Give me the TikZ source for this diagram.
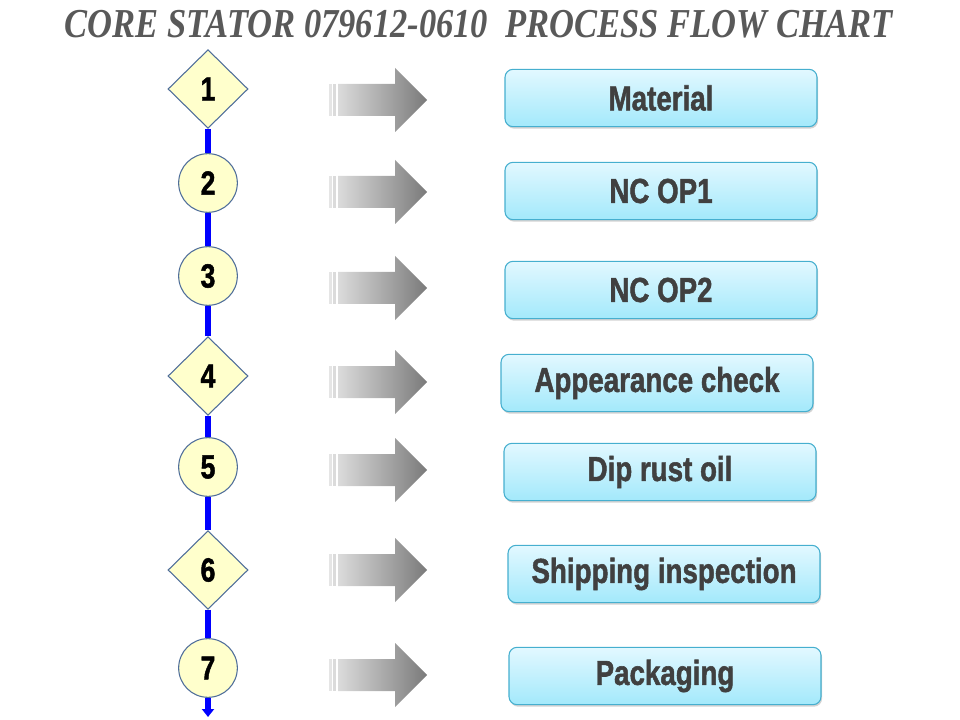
\documentclass[tikz,border=0pt]{standalone}
\usepackage{fontspec}
\usepackage{tikz}
\usetikzlibrary{arrows.meta, shapes.geometric, shadows}
\newfontfamily\titlefont{Liberation Serif}
\newfontfamily\labelfont[BoldFeatures={FakeBold=1.6}]{Liberation Sans}
\definecolor{stepfill}{HTML}{FFFFCC}
\definecolor{stepline}{HTML}{4F6E9A}
\definecolor{boxtop}{HTML}{E2F8FF}
\definecolor{boxbottom}{HTML}{A3E9FB}
\definecolor{boxline}{HTML}{46AFCF}
\definecolor{labelgray}{HTML}{404040}
\definecolor{titlegray}{HTML}{595959}
\newcommand{\narrowtext}[1]{\scalebox{0.8}[1]{#1}}

\begin{document}
\begin{tikzpicture}[
    x=0.75pt, y=-0.75pt,
    stepdiamond/.style={diamond, draw=stepline, fill=stepfill, line width=0.8pt, minimum width=60pt, minimum height=59pt, inner sep=0pt, font=\labelfont\bfseries\fontsize{25}{25}\selectfont},
    stepcircle/.style={circle, draw=stepline, fill=stepfill, line width=0.8pt, minimum size=44pt, inner sep=0pt, font=\labelfont\bfseries\fontsize{25}{25}\selectfont},
    box/.style={rectangle, draw=boxline, line width=0.8pt, rounded corners=6pt, top color=boxtop, bottom color=boxbottom, minimum width=234pt, minimum height=43pt, inner sep=0pt, text=labelgray, font=\labelfont\bfseries\fontsize{26}{26}\selectfont, drop shadow={shadow xshift=0.8pt, shadow yshift=-1.5pt, opacity=0.35}},
    spine/.style={draw=blue, line width=5.2pt},
    fatarrow/.pic={
        \fill[black!10] (0,-16) rectangle (2.5,16);
        \fill[black!14] (4,-16) rectangle (7,16);
        \shade[left color=black!14, right color=black!52] (9,-16) -- (66,-16) -- (66,-32) -- (98,0) -- (66,32) -- (66,16) -- (9,16) -- cycle;
    }
]
    \useasboundingbox (0,0) rectangle (960,720);

    % Title
    \node[text=titlegray] (title) at (479,24) {\resizebox{621pt}{20.5pt}{\titlefont\bfseries\itshape CORE STATOR 079612-0610\ \ PROCESS FLOW CHART}};

    % Nodes
    \node[stepdiamond] (s1) at (208,89) {\narrowtext{1}};
    \node[stepcircle] (s2) at (208,183) {\narrowtext{2}};
    \node[stepcircle] (s3) at (208,276) {\narrowtext{3}};
    \node[stepdiamond] (s4) at (208,376) {\narrowtext{4}};
    \node[stepcircle] (s5) at (208,467) {\narrowtext{5}};
    \node[stepdiamond] (s6) at (208,570) {\narrowtext{6}};
    \node[stepcircle] (s7) at (208,668) {\narrowtext{7}};
    \coordinate (tail) at (208,717);

    \node[box] (material) at (661,98) {\narrowtext{Material}};
    \node[box] (op1) at (661,191) {\narrowtext{NC OP1}};
    \node[box] (op2) at (661,290) {\narrowtext{NC OP2}};
    \node[box] (check) at (657,383) {\narrowtext{Appearance check}};
    \node[box] (dip) at (660,472) {\narrowtext{Dip rust oil}};
    \node[box] (ship) at (664,574) {\narrowtext{Shipping inspection}};
    \node[box] (pack) at (665,676) {\narrowtext{Packaging}};

    % Spine between the steps
    \draw[spine] (s1) -- (s2);
    \draw[spine] (s2) -- (s3);
    \draw[spine] (s3) -- (s4);
    \draw[spine] (s4) -- (s5);
    \draw[spine] (s5) -- (s6);
    \draw[spine] (s6) -- (s7);
    \draw[spine, -{Triangle[length=6pt, width=9pt]}] (s7) -- (tail);

    % Arrows towards the boxes
    \pic at (329,100) {fatarrow};
    \pic at (329,192) {fatarrow};
    \pic at (329,288) {fatarrow};
    \pic at (329,382) {fatarrow};
    \pic at (329,470) {fatarrow};
    \pic at (329,570) {fatarrow};
    \pic at (329,675) {fatarrow};
\end{tikzpicture}
\end{document}
